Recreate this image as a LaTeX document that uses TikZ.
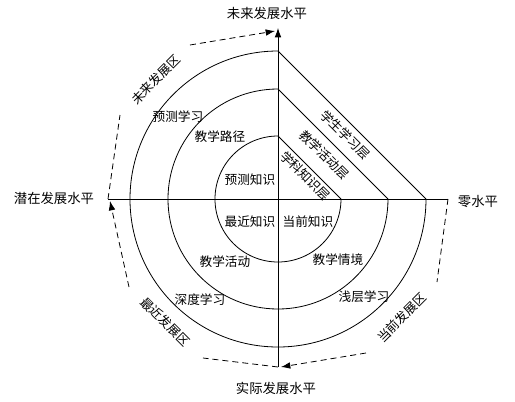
\documentclass[tikz,border=0pt]{standalone}
\usepackage{fontspec}
\setmainfont{Noto Sans CJK SC}
\usetikzlibrary{arrows.meta}

\begin{document}
\begin{tikzpicture}[
      x=0.75pt,y=0.75pt,
      ring/.style={line width=0.6pt},
      axis/.style={line width=0.6pt},
      zone/.style={line width=0.6pt,dash pattern=on 4.5pt off 3pt},
      tip/.style={-{Latex[length=7pt,width=5pt]}},
      lbl/.style={font=\fontsize{9.5}{11}\selectfont,inner sep=1pt},
      lvl/.style={font=\fontsize{10}{12}\selectfont,inner sep=1pt},
      ]
      \useasboundingbox (-278,-202) rectangle (237,199);
      \def\ra{63}
      \def\rb{110}
      \def\rc{148}
      \draw[ring] (0,\ra) arc[start angle=90,end angle=360,radius=\ra] -- cycle;
      \draw[ring] (0,\rb) arc[start angle=90,end angle=360,radius=\rb] -- cycle;
      \draw[ring] (0,\rc) arc[start angle=90,end angle=360,radius=\rc] -- cycle;

      \coordinate (top) at (0,171);
      \coordinate (bot) at (0,-168);
      \coordinate (lft) at (-170,0);
      \coordinate (rgt) at (170,0);
      \draw[axis] (lft) -- (rgt);
      \draw[axis,tip] (bot) -- (top);

      \coordinate (fz1) at (-158,84);
      \coordinate (fz2) at (-88,154);
      \coordinate (fz3) at (-3,168);
      \coordinate (nz1) at (-75,-159);
      \coordinate (nz2) at (-149,-88);
      \coordinate (nz3) at (-168,-2);
      \coordinate (cz1) at (159,-83);
      \coordinate (cz2) at (88,-154);
      \coordinate (cz3) at (3,-168);
      \draw[zone] (lft) -- (fz1);
      \draw[zone,tip] (fz2) -- (fz3);
      \draw[zone] (bot) -- (nz1);
      \draw[zone,tip] (nz2) -- (nz3);
      \draw[zone] (rgt) -- (cz1);
      \draw[zone,tip] (cz2) -- (cz3);

      \node[lvl] (future) at (-11,186) {未来发展水平};
      \node[lvl] (potential) at (-224,1) {潜在发展水平};
      \node[lvl] (zero) at (200,-2) {零水平};
      \node[lvl] (actual) at (-2,-189) {实际发展水平};

      \node[lbl,rotate=45] (futurezone) at (-122,119) {未来发展区};
      \node[lbl,rotate=-45] (nearzone) at (-113,-123) {最近发展区};
      \node[lbl,rotate=45] (currentzone) at (124,-119) {当前发展区};

      \node[lbl] (predknow) at (-28,19) {预测知识};
      \node[lbl] (nearknow) at (-28,-23) {最近知识};
      \node[lbl] (curknow) at (30,-23) {当前知识};
      \node[lbl] (path) at (-58,62) {教学路径};
      \node[lbl] (predlearn) at (-100,82) {预测学习};
      \node[lbl] (activity) at (-53,-63) {教学活动};
      \node[lbl] (deep) at (-78,-101) {深度学习};
      \node[lbl] (situation) at (60,-61) {教学情境};
      \node[lbl] (shallow) at (86,-98) {浅层学习};

      \node[lbl,rotate=-45] (subject) at (27,23) {学科知识层};
      \node[lbl,rotate=-45] (teaching) at (46,44) {教学活动层};
      \node[lbl,rotate=-45] (student) at (67,64) {学生学习层};
    \end{tikzpicture}
\end{document}
